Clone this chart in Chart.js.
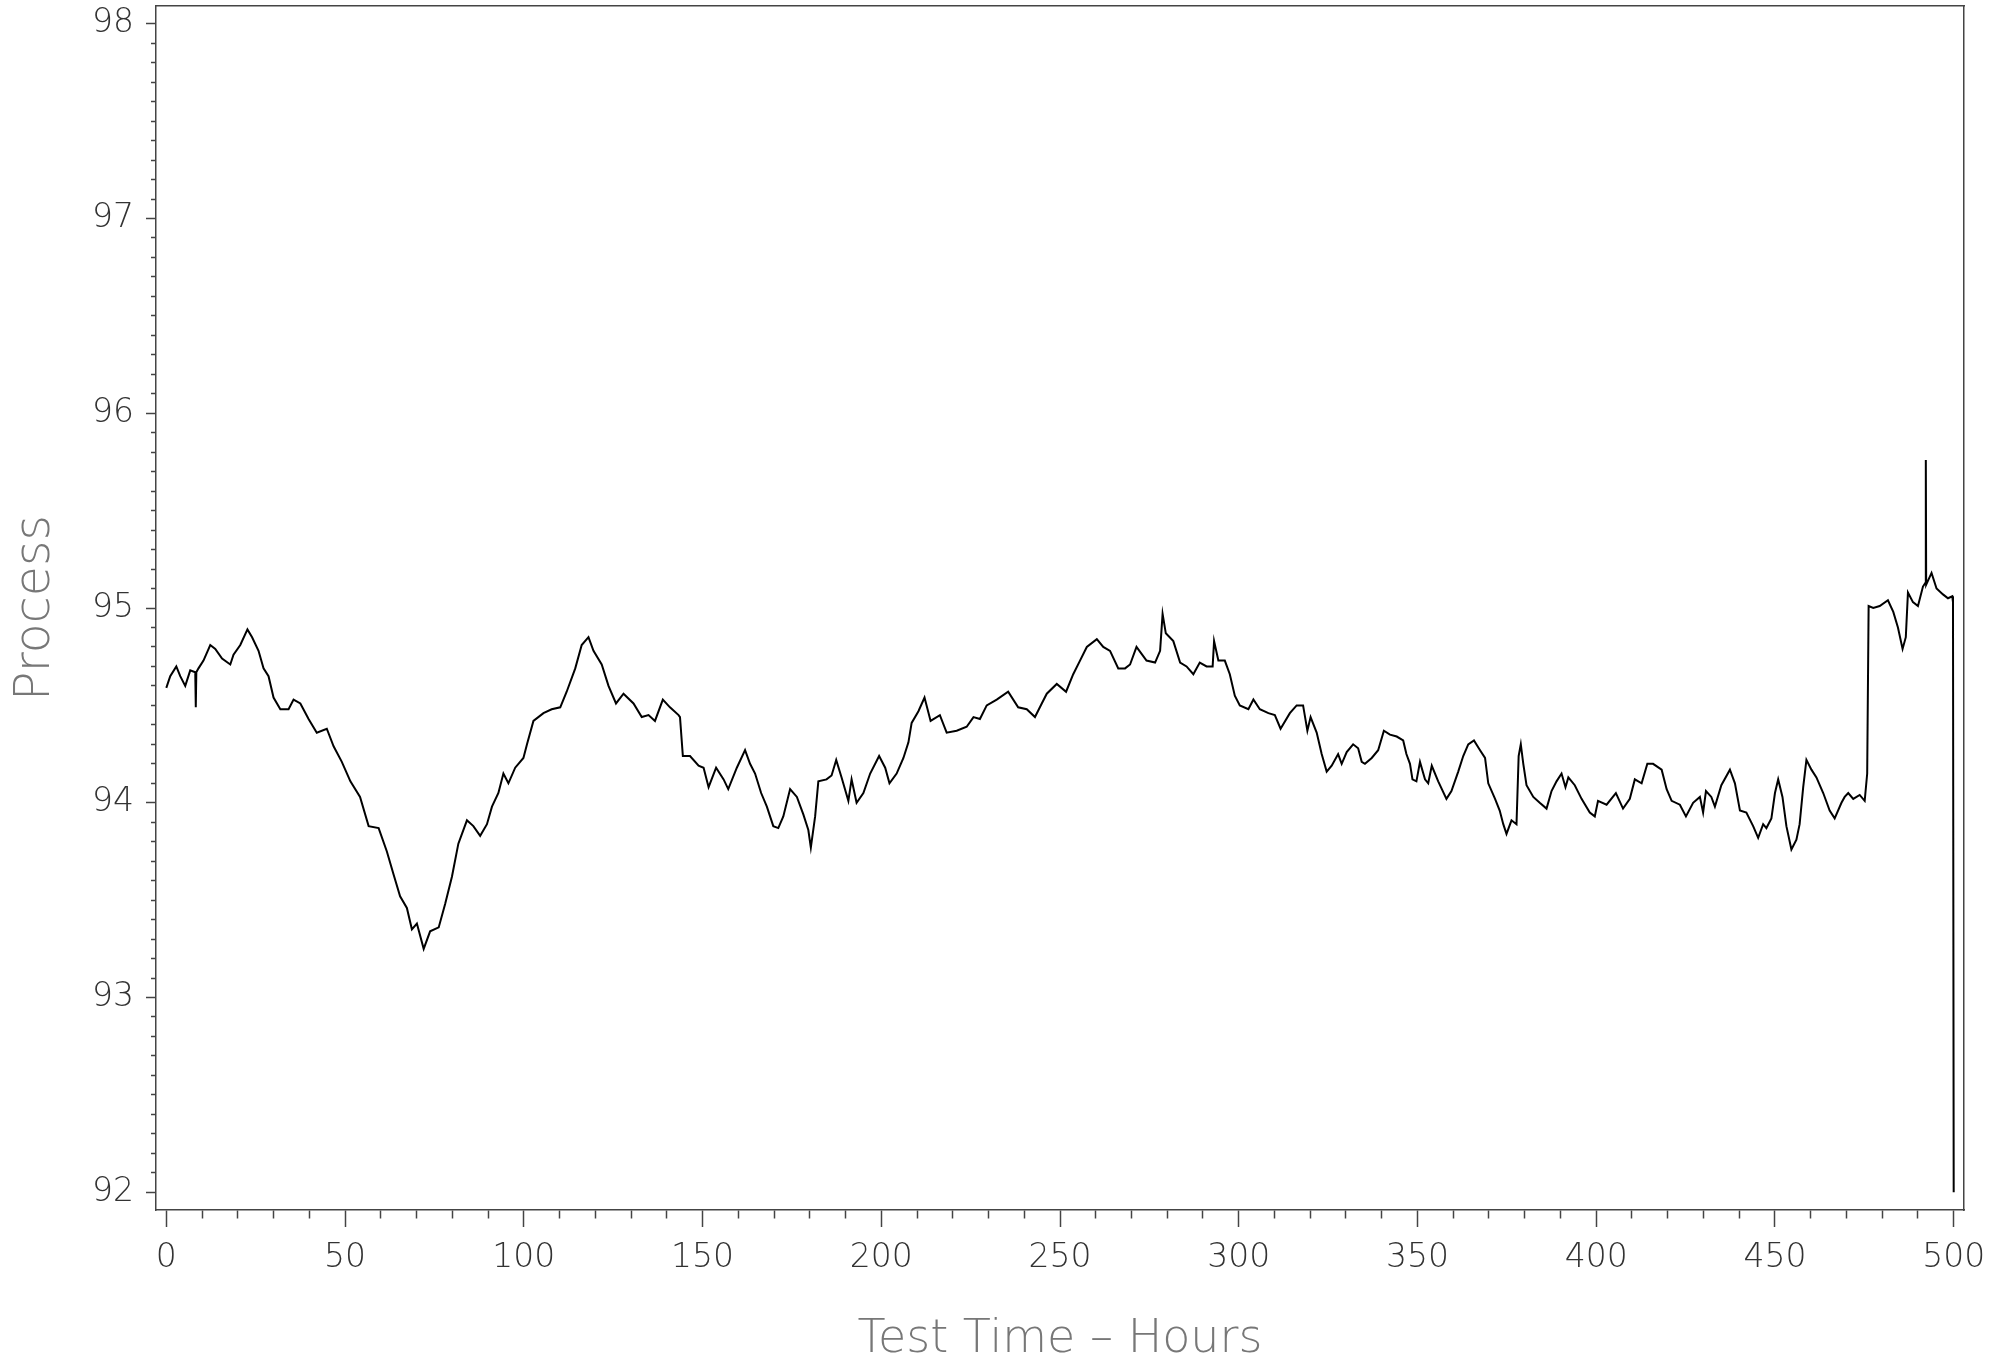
<!DOCTYPE html>
<html>
<head>
<meta charset="utf-8">
<script src="https://cdn.jsdelivr.net/npm/chart.js@4.4.1/dist/chart.umd.min.js"></script>
<style>
  html, body { margin: 0; padding: 0; background: #fff; }
  #chart { display: block; }
</style>
</head>
<body>
<canvas id="chart" width="2004" height="1360"></canvas>
<script>
// Process value over the test
const hours = [
  0.0, 1.1, 2.8, 3.9, 5.3, 6.7, 8.1, 8.25, 8.4, 9.0, 10.4, 12.3, 13.7, 15.6, 17.9, 18.8,
  20.7, 22.7, 24.0, 25.8, 27.2, 28.6, 30.0, 31.9, 34.2, 35.6, 37.5, 39.8, 42.1, 44.9, 46.8, 49.1,
  51.5, 54.2, 56.6, 59.4, 61.7, 63.6, 65.4, 67.3, 68.7, 70.1, 72.0, 73.8, 76.2, 78.0, 79.9, 81.7,
  84.1, 85.9, 87.8, 89.7, 91.1, 92.9, 94.3, 95.7, 97.6, 99.9, 100.9, 102.7, 105.5, 107.8, 110.2, 112.0,
  114.4, 116.2, 118.1, 119.5, 121.8, 123.7, 125.8, 127.9, 130.7, 133.0, 134.9, 136.7, 138.9, 140.9, 143.3, 143.7,
  144.5, 146.5, 148.9, 150.3, 151.7, 153.8, 155.9, 157.2, 159.6, 161.9, 163.3, 164.7, 166.4, 168.0, 169.8, 171.2,
  172.6, 174.5, 176.4, 178.2, 179.6, 180.3, 181.5, 182.4, 184.7, 186.1, 187.4, 188.9, 190.8, 191.7, 193.1, 195.0,
  196.9, 199.4, 201.1, 202.3, 204.3, 206.2, 207.6, 208.5, 210.4, 212.1, 213.8, 216.4, 218.3, 221.1, 223.9, 225.8,
  227.6, 229.5, 232.3, 235.5, 238.3, 240.7, 243.0, 244.9, 246.3, 249.1, 251.7, 253.7, 255.6, 257.5, 260.3, 262.1,
  264.0, 266.3, 268.2, 269.6, 271.4, 274.2, 276.6, 278.0, 278.7, 279.6, 281.7, 283.6, 285.4, 287.3, 289.1, 291.0,
  292.7, 293.1, 294.3, 296.1, 297.5, 298.9, 300.3, 302.7, 304.1, 305.9, 308.3, 310.1, 311.7, 314.3, 316.2, 318.0,
  319.2, 320.1, 321.8, 323.2, 324.6, 326.0, 327.8, 328.8, 330.2, 332.0, 333.4, 334.4, 335.3, 337.2, 339.0, 340.6,
  342.3, 344.2, 346.0, 346.9, 347.9, 348.6, 349.7, 350.7, 352.1, 353.0, 354.0, 355.8, 358.1, 359.5, 361.4, 362.8,
  364.2, 365.8, 367.5, 368.9, 369.8, 371.7, 373.0, 374.0, 374.9, 376.3, 377.7, 378.3, 378.9, 379.6, 380.5, 382.4,
  384.2, 386.1, 387.5, 388.9, 390.3, 391.4, 392.2, 394.0, 395.9, 398.2, 399.6, 400.5, 402.9, 405.5, 407.5, 409.4,
  410.8, 412.7, 414.3, 415.9, 418.3, 419.7, 421.1, 423.4, 425.1, 427.1, 429.0, 429.9, 430.7, 432.2, 433.2, 435.0,
  437.4, 438.8, 440.2, 442.0, 443.9, 445.3, 446.7, 447.6, 449.0, 450.0, 450.9, 452.1, 453.2, 454.6, 456.0, 456.9,
  457.9, 458.8, 460.2, 461.6, 463.5, 465.3, 466.7, 468.6, 469.5, 470.5, 471.9, 473.7, 475.1, 475.8, 476.2, 477.5,
  479.3, 481.6, 483.1, 484.4, 485.7, 486.6, 487.2, 488.6, 490.0, 491.4, 492.1, 492.2, 492.3, 493.8, 495.2, 497.0,
  498.4, 499.6, 499.8, 500.0
];

const process = [
  94.59, 94.65, 94.70, 94.65, 94.60, 94.68, 94.67, 94.49, 94.67, 94.69, 94.73, 94.81, 94.79, 94.74, 94.71, 94.76,
  94.81, 94.89, 94.85, 94.78, 94.69, 94.65, 94.54, 94.48, 94.48, 94.53, 94.51, 94.43, 94.36, 94.38, 94.29, 94.21,
  94.11, 94.03, 93.88, 93.87, 93.75, 93.63, 93.52, 93.46, 93.35, 93.38, 93.25, 93.34, 93.36, 93.48, 93.62, 93.79,
  93.91, 93.88, 93.83, 93.89, 93.98, 94.05, 94.15, 94.10, 94.18, 94.23, 94.30, 94.42, 94.46, 94.48, 94.49, 94.57,
  94.69, 94.81, 94.85, 94.78, 94.71, 94.60, 94.51, 94.56, 94.51, 94.44, 94.45, 94.42, 94.53, 94.49, 94.45, 94.44,
  94.24, 94.24, 94.19, 94.18, 94.08, 94.18, 94.12, 94.07, 94.18, 94.27, 94.20, 94.15, 94.05, 93.98, 93.88, 93.87,
  93.93, 94.07, 94.03, 93.94, 93.86, 93.77, 93.93, 94.11, 94.12, 94.14, 94.22, 94.13, 94.01, 94.12, 94.00, 94.05,
  94.15, 94.24, 94.18, 94.10, 94.15, 94.23, 94.31, 94.41, 94.47, 94.54, 94.42, 94.45, 94.36, 94.37, 94.39, 94.44,
  94.43, 94.50, 94.53, 94.57, 94.49, 94.48, 94.44, 94.51, 94.56, 94.61, 94.57, 94.66, 94.73, 94.80, 94.84, 94.80,
  94.78, 94.69, 94.69, 94.71, 94.80, 94.73, 94.72, 94.78, 94.97, 94.87, 94.83, 94.72, 94.70, 94.66, 94.72, 94.70,
  94.70, 94.83, 94.73, 94.73, 94.66, 94.55, 94.50, 94.48, 94.53, 94.48, 94.46, 94.45, 94.38, 94.46, 94.50, 94.50,
  94.37, 94.44, 94.36, 94.25, 94.16, 94.19, 94.25, 94.20, 94.26, 94.30, 94.28, 94.21, 94.20, 94.23, 94.27, 94.37,
  94.35, 94.34, 94.32, 94.25, 94.20, 94.12, 94.11, 94.21, 94.12, 94.10, 94.19, 94.11, 94.02, 94.06, 94.16, 94.24,
  94.30, 94.32, 94.27, 94.23, 94.10, 94.02, 93.96, 93.89, 93.84, 93.91, 93.89, 94.24, 94.30, 94.20, 94.09, 94.03,
  94.00, 93.97, 94.06, 94.11, 94.15, 94.08, 94.13, 94.09, 94.02, 93.95, 93.93, 94.01, 93.99, 94.05, 93.97, 94.02,
  94.12, 94.10, 94.20, 94.20, 94.17, 94.07, 94.01, 93.99, 93.93, 94.00, 94.03, 93.95, 94.06, 94.03, 93.98, 94.09,
  94.17, 94.10, 93.96, 93.95, 93.88, 93.82, 93.89, 93.87, 93.92, 94.05, 94.12, 94.03, 93.88, 93.76, 93.81, 93.89,
  94.08, 94.22, 94.17, 94.13, 94.05, 93.96, 93.92, 94.00, 94.03, 94.05, 94.02, 94.04, 94.01, 94.15, 95.01, 95.00,
  95.01, 95.04, 94.98, 94.90, 94.79, 94.85, 95.08, 95.03, 95.01, 95.11, 95.13, 95.76, 95.12, 95.18, 95.10, 95.07,
  95.05, 95.06, 95.03, 92.00
];

// Axis ranges and ticks
const xRange = [-2.88, 502.88];
const yRange = [91.909, 98.091];
const xMajorLabels = [0, 50, 100, 150, 200, 250, 300, 350, 400, 450, 500];
const yMajorLabels = [92, 93, 94, 95, 96, 97, 98];

const axisColor = '#444';
const labelFont = { family: 'DejaVu Sans', size: 33, weight: '200' };
const xTitleFont = { family: 'DejaVu Sans', size: 46, weight: '200', lineHeight: 1 };
const yTitleFont = { family: 'DejaVu Sans', size: 49, weight: '200', lineHeight: 1 };

function isMajor(v, list) {
    return list.some(function (m) { return Math.abs(v - m) < 1e-6; });
}

// keep the plot box where it is, labels may overhang
function noEdgePadding(s) {
    s.paddingTop = 0;
    s.paddingBottom = 0;
    s.paddingLeft = 0;
    s.paddingRight = 0;
}

const points = hours.map(function (h, i) {
    return { x: h, y: process[i] };
});

new Chart(document.getElementById('chart'), {
    type: 'line',
    data: {
        datasets: [{
            data: points,
            borderColor: '#000',
            borderWidth: 2,
            pointRadius: 0,
            tension: 0,
            fill: false
        }]
    },
    options: {
        responsive: false,
        animation: false,
        devicePixelRatio: 1,
        layout: { padding: { top: 6, right: 40, bottom: 0, left: 0 } },
        plugins: { legend: { display: false }, tooltip: { enabled: false } },
        scales: {
            x: {
                type: 'linear',
                position: 'bottom',
                min: xRange[0],
                max: xRange[1],
                afterFit: function (s) { s.height = 150; noEdgePadding(s); },
                border: { display: true, color: axisColor, width: 1.5 },
                grid: {
                    drawOnChartArea: false,
                    drawTicks: true,
                    tickLength: 17,
                    tickWidth: 1.5,
                    tickColor: axisColor,
                    tickBorderDash: function (ctx) {
                        return isMajor(ctx.tick.value, xMajorLabels) ? [] : [8, 40];
                    }
                },
                ticks: {
                    stepSize: 10,
                    autoSkip: false,
                    includeBounds: false,
                    maxRotation: 0,
                    padding: 12,
                    color: '#333',
                    font: labelFont,
                    callback: function (v) { return isMajor(v, xMajorLabels) ? String(Math.round(v)) : ''; }
                },
                title: {
                    display: true,
                    text: 'Test Time \u2013 Hours',
                    color: '#777',
                    font: xTitleFont,
                    padding: { top: 0, bottom: -3 }
                }
            },
            y: {
                type: 'linear',
                position: 'left',
                min: yRange[0],
                max: yRange[1],
                afterFit: function (s) { s.width = 156; noEdgePadding(s); },
                border: { display: true, color: axisColor, width: 1.5 },
                grid: {
                    drawOnChartArea: false,
                    drawTicks: true,
                    tickLength: 10,
                    tickWidth: 1.5,
                    tickColor: axisColor,
                    tickBorderDash: function (ctx) {
                        return isMajor(ctx.tick.value, yMajorLabels) ? [] : [0, 5, 40];
                    }
                },
                ticks: {
                    stepSize: 0.1,
                    autoSkip: false,
                    includeBounds: false,
                    padding: 12,
                    color: '#333',
                    font: labelFont,
                    callback: function (v) { return isMajor(v, yMajorLabels) ? String(Math.round(v)) : ''; }
                },
                title: {
                    display: true,
                    text: 'Process',
                    color: '#777',
                    font: yTitleFont,
                    padding: { top: 12, bottom: 0 }
                }
            },
            xTop: {
                type: 'linear',
                position: 'top',
                min: xRange[0],
                max: xRange[1],
                afterFit: function (s) { s.height = 0; noEdgePadding(s); },
                border: { display: true, color: axisColor, width: 1.5 },
                grid: { drawOnChartArea: false, drawTicks: false },
                ticks: { display: false }
            },
            yRight: {
                type: 'linear',
                position: 'right',
                min: yRange[0],
                max: yRange[1],
                afterFit: function (s) { s.width = 0; noEdgePadding(s); },
                border: { display: true, color: axisColor, width: 1.5 },
                grid: { drawOnChartArea: false, drawTicks: false },
                ticks: { display: false }
            }
        }
    }
});
</script>
</body>
</html>
